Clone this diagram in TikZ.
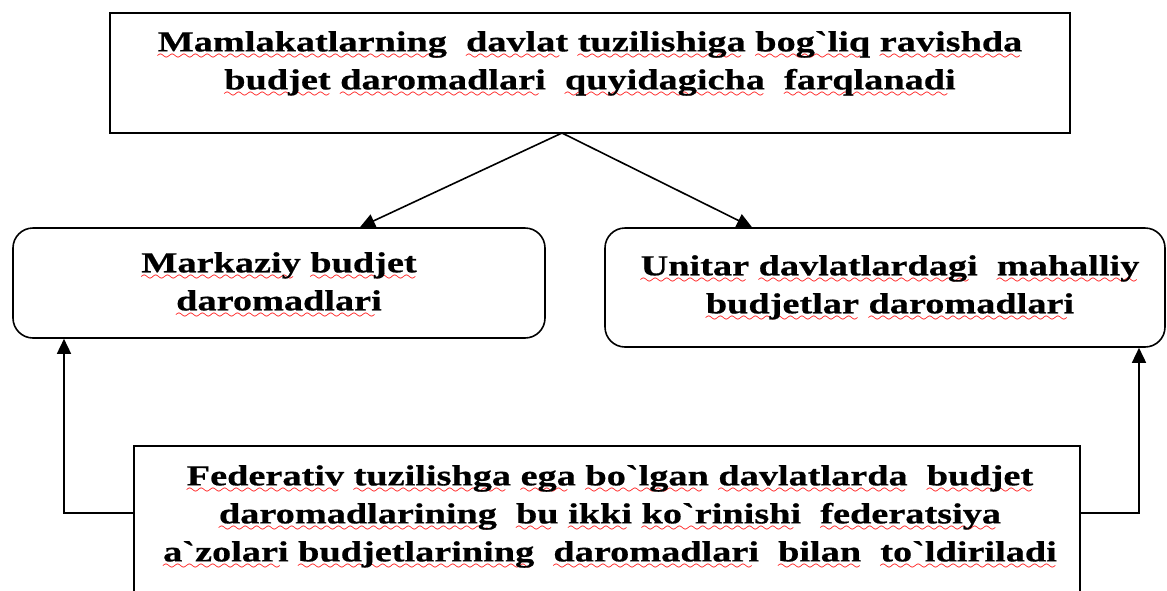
\documentclass[tikz,border=0pt]{standalone}
\usepackage{fontspec}
\setmainfont{Liberation Serif}[Ligatures=TeXOff, FakeStretch=1.32, FakeBold=0.6]
\usetikzlibrary{arrows.meta}

\font\uzwave=lasy6 at 14pt
\newsavebox\sqbox
\newcommand\sq[1]{\sbox\sqbox{#1}\rlap{\textcolor{red}{\leaders\hbox{\lower8pt\hbox{\uzwave\char58}}\hskip\wd\sqbox}}\usebox\sqbox}
\newcommand\gr{\char96\relax}

\tikzset{
  plainbox/.style={draw, line width=1.6pt, inner sep=0pt},
  roundbox/.style={draw, line width=1.6pt, rounded corners=20pt, inner sep=0pt},
  boxtext/.style={align=center, inner sep=0pt, anchor=north},
  link/.style={line width=1.6pt, -{Triangle[length=15pt,width=14pt]}}
}

\begin{document}
\begin{tikzpicture}[x=1pt,y=1pt,yscale=-1,xscale=1,
  every node/.style={font=\fontsize{29}{38}\selectfont\bfseries}]
\useasboundingbox (0,0) rectangle (1167,590);

%Boxes
\node[plainbox, minimum width=960, minimum height=120] (top) at (590,73) {};
\node[roundbox, minimum width=532, minimum height=110] (left) at (279,283) {};
\node[roundbox, minimum width=560, minimum height=119] (right) at (885,287.5) {};
\node[plainbox, minimum width=946, minimum height=200] (fed) at (607,546) {};

% Text Nodes
\node[boxtext] (toptext) at (590,31) {\sq{Mamlakatlarning} \ \sq{davlat} \sq{tuzilishiga} \sq{bog\gr liq} \sq{ravishda}\\
  \sq{budjet} \sq{daromadlari} \ \sq{quyidagicha} \ \sq{farqlanadi}};
\node[boxtext] (lefttext) at (279,252) {\sq{Markaziy} \sq{budjet}\\ \sq{daromadlari}};
\node[boxtext] (righttext) at (890,255) {\sq{Unitar} \sq{davlatlardagi} \ \sq{mahalliy}\\ \sq{budjetlar} \sq{daromadlari}};
\node[boxtext] (fedtext) at (610,465) {\sq{Federativ} \sq{tuzilishga} \sq{ega} \sq{bo\gr lgan} \sq{davlatlarda} \ \sq{budjet}\\
  \sq{daromadlarining} \ \sq{bu} \sq{ikki} \sq{ko\gr rinishi} \ \sq{federatsiya}\\
  \sq{a\gr zolari} \sq{budjetlarining} \ \sq{daromadlari} \ \sq{bilan} \ \sq{to\gr ldiriladi}};

%Connectors
\coordinate (apex) at (562,133);
\coordinate (ltip) at (360,228);
\coordinate (rtip) at (752,228);
\coordinate (lbend) at (64,513);
\coordinate (rbend) at (1139,513);
\draw[link] (apex) -- (ltip |- left.north);
\draw[link] (apex) -- (rtip |- right.north);
\draw[link] (fed.west |- lbend) -| (left.south -| lbend);
\draw[link] (fed.east |- rbend) -| (right.south -| rbend);

\end{tikzpicture}
\end{document}
